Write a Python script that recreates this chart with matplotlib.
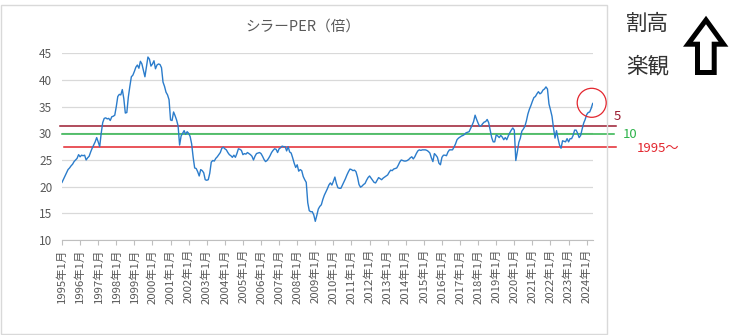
import numpy as np
import matplotlib
matplotlib.use("Agg")
import matplotlib.pyplot as plt
from matplotlib.patches import Rectangle, Circle, Polygon

plt.rcParams['font.family'] = ['Noto Sans CJK JP', 'DejaVu Sans']

# シラーPER 月次（1995年1月～2024年5月）
per_1995 = [20.8, 21.4, 22.0, 22.6, 23.2, 23.5, 23.9, 24.2, 24.7, 25.0, 25.3, 26.0]
per_1996 = [25.6, 25.9, 25.8, 25.9, 25.0, 25.4, 25.7, 26.5, 27.2, 27.8, 28.4, 29.2]
per_1997 = [28.4, 27.5, 30.0, 32.0, 32.8, 32.9, 32.7, 32.8, 32.4, 33.1, 33.2, 33.4]
per_1998 = [35.0, 36.9, 37.3, 37.2, 38.2, 36.5, 33.8, 33.9, 36.8, 38.8, 40.6, 40.9]
per_1999 = [41.6, 42.4, 42.8, 42.2, 43.5, 43.0, 41.8, 40.6, 42.5, 44.3, 43.9, 42.6]
per_2000 = [43.0, 43.6, 42.1, 42.8, 43.0, 42.9, 42.3, 39.6, 38.8, 37.7, 37.2, 36.3]
per_2001 = [32.5, 32.4, 34.0, 33.3, 32.5, 31.4, 27.8, 29.5, 30.0, 30.5, 29.8, 30.3]
per_2002 = [30.0, 29.4, 28.0, 25.5, 23.5, 23.4, 22.8, 22.0, 23.2, 23.0, 22.6, 21.3]
per_2003 = [21.2, 21.3, 22.5, 24.6, 24.9, 24.8, 25.3, 25.6, 26.0, 26.4, 27.2, 27.4]
per_2004 = [27.1, 26.9, 26.4, 26.0, 25.8, 25.5, 25.9, 25.5, 26.2, 27.1, 27.0, 26.8]
per_2005 = [26.0, 26.2, 26.1, 26.4, 26.2, 26.0, 25.7, 25.0, 25.7, 26.2, 26.3, 26.4]
per_2006 = [26.2, 25.7, 25.1, 24.7, 24.9, 25.3, 25.8, 26.4, 26.8, 27.1, 27.0, 26.4]
per_2007 = [27.1, 27.3, 27.6, 27.5, 27.5, 26.7, 27.5, 26.5, 26.3, 25.4, 24.4, 23.6]
per_2008 = [24.1, 22.9, 23.2, 23.0, 21.9, 21.3, 20.8, 17.0, 15.5, 15.3, 15.3, 14.7]
per_2009 = [13.5, 14.6, 15.8, 16.3, 16.6, 17.6, 18.4, 19.0, 19.6, 20.3, 20.7, 20.3]
per_2010 = [21.0, 21.8, 20.6, 19.8, 19.7, 19.7, 20.3, 20.9, 21.5, 22.2, 22.8, 23.3]
per_2011 = [23.2, 23.0, 23.1, 22.8, 21.8, 20.4, 19.9, 20.1, 20.4, 20.6, 21.2, 21.7]
per_2012 = [22.0, 21.6, 21.2, 20.8, 20.7, 21.2, 21.7, 21.5, 21.3, 21.6, 21.8, 22.0]
per_2013 = [22.2, 22.7, 23.1, 23.0, 23.3, 23.4, 23.5, 24.0, 24.6, 25.0, 24.9, 24.8]
per_2014 = [24.8, 24.9, 25.1, 25.4, 25.6, 25.2, 25.6, 26.2, 26.7, 26.9, 26.8, 26.9]
per_2015 = [26.9, 26.9, 26.8, 26.6, 26.3, 25.4, 24.7, 26.2, 25.9, 25.5, 24.4, 24.1]
per_2016 = [25.5, 25.9, 25.9, 25.8, 26.5, 26.9, 26.9, 26.9, 27.4, 28.0, 28.8, 29.1]
per_2017 = [29.3, 29.5, 29.6, 29.8, 30.1, 30.2, 30.3, 30.9, 31.5, 32.2, 33.4, 32.6]
per_2018 = [31.9, 31.3, 31.4, 31.8, 32.1, 32.2, 32.6, 32.0, 30.6, 29.2, 28.4, 28.4]
per_2019 = [29.7, 29.5, 29.2, 29.6, 29.3, 28.8, 29.2, 28.8, 29.5, 30.1, 30.6, 31.0]
per_2020 = [30.6, 24.9, 26.5, 28.3, 29.1, 30.4, 30.8, 31.3, 32.3, 33.6, 34.5, 35.2]
per_2021 = [36.0, 36.7, 36.9, 37.4, 37.8, 37.4, 37.6, 38.1, 38.3, 38.7, 38.3, 35.5]
per_2022 = [34.4, 33.2, 31.0, 29.1, 30.5, 29.0, 27.8, 27.2, 28.6, 28.5, 28.4, 29.0]
per_2023 = [28.4, 29.0, 29.0, 29.6, 30.6, 30.6, 30.0, 29.2, 29.6, 30.8, 31.9, 32.6]
per_2024 = [33.5, 33.9, 34.0, 34.7, 35.6]

per = (per_1995 + per_1996 + per_1997 + per_1998 + per_1999 + per_2000 + per_2001
       + per_2002 + per_2003 + per_2004 + per_2005 + per_2006 + per_2007 + per_2008
       + per_2009 + per_2010 + per_2011 + per_2012 + per_2013 + per_2014 + per_2015
       + per_2016 + per_2017 + per_2018 + per_2019 + per_2020 + per_2021 + per_2022
       + per_2023 + per_2024)

years = list(range(1995, 2025))
tick_labels = [f"{y}年1月" for y in years]

# 平均線（5年・10年・1995年以降）
avg_labels = ["5", "10", "1995～"]
avg_values = [31.3, 29.9, 27.4]
avg_colors = ["#9B1B30", "#2DB34A", "#E3262E"]

W, H = 733, 335
fig = plt.figure(figsize=(W / 100, H / 100), dpi=100)

ax = fig.add_axes([62 / W, 1 - 240 / H, (592.7 - 62) / W, (240 - 53.3) / H])
x = np.arange(len(per))
ax.plot(x, per, color="#2B7CCB", lw=1.0, zorder=3)
ax.set_xlim(0, len(per) - 1)
ax.set_ylim(10, 45)
ax.set_yticks(range(10, 46, 5))
ax.grid(axis="y", color="#D9D9D9", lw=0.9)
ax.set_axisbelow(True)
for s in ["top", "right", "left"]:
    ax.spines[s].set_visible(False)
ax.spines["bottom"].set_color("#BFBFBF")
ax.set_xticks(np.arange(0, len(per), 12))
ax.set_xticklabels(tick_labels, rotation=90, fontsize=8.2, color="#595959")
ax.tick_params(axis="x", length=3.5, color="#BFBFBF", pad=3)
ax.tick_params(axis="y", length=0, pad=7, labelsize=8.5, labelcolor="#595959")

# 平均線はプロット領域の外まで伸ばす
px = 1.505
line_x = [((60 - 62) / px, (615 - 62) / px),
          ((62 - 62) / px, (612.7 - 62) / px),
          ((64 - 62) / px, (615 - 62) / px)]
for (x0, x1), v, c in zip(line_x, avg_values, avg_colors):
    ax.plot([x0, x1], [v, v], color=c, lw=1.1, clip_on=False, zorder=2)

# 図全体をピクセル座標で扱うオーバーレイ
ov = fig.add_axes([0, 0, 1, 1], zorder=5)
ov.set_xlim(0, W)
ov.set_ylim(H, 0)
ov.axis("off")
ov.patch.set_alpha(0)

ov.add_patch(Rectangle((1, 5), 606, 329, fill=False, ec="#D9D9D9", lw=1))
ov.text(303, 27, "シラーPER（倍）", ha="center", va="center", fontsize=10.5, color="#595959")

label_pos = [(614, 116), (623, 134), (637, 148)]
for (tx, ty), lab, c in zip(label_pos, avg_labels, avg_colors):
    ov.text(tx, ty, lab, ha="left", va="center", fontsize=9.5, color=c)

ov.add_patch(Circle((591.7, 102.8), 14.5, fill=False, ec="#E3262E", lw=0.9))

ov.text(626, 24, "割高", ha="left", va="center", fontsize=15.5, color="#333333")
ov.text(626, 66, "楽観", ha="left", va="center", fontsize=15.5, color="#333333")

arrow = [(706, 20), (723.5, 44.2), (714.2, 44.2), (714.2, 72.5),
         (697.5, 72.5), (697.5, 44.2), (688, 44.2)]
ov.add_patch(Polygon(arrow, closed=True, fill=False, ec="black", lw=3.6, joinstyle="miter"))

fig.savefig("out.png", dpi=100)
